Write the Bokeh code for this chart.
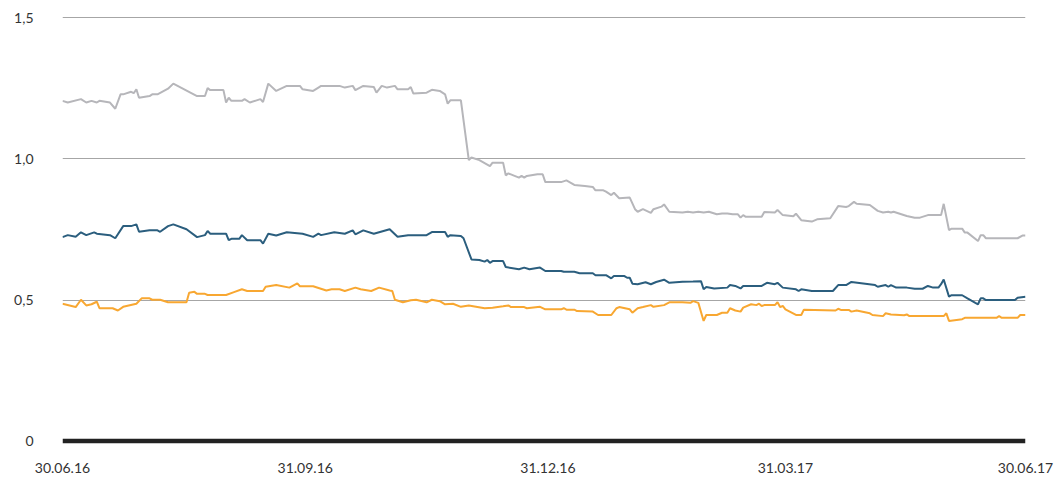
from bokeh.plotting import figure
from bokeh.models import Range1d, FixedTicker, Span
from bokeh.embed import file_html
from bokeh.resources import INLINE

# x = days since 30.06.16
tick_days = [0, 92, 184, 274, 365]
tick_labels = ["30.06.16", "31.09.16", "31.12.16", "31.03.17", "30.06.17"]
y_ticks = [0, 0.5, 1.0, 1.5]
y_labels = ["0", "0,5", "1,0", "1,5"]

gray_days = [0, 2, 7, 9, 11, 13, 14, 18, 20, 22, 23, 26, 27, 28, 29, 33, 34, 36, 40, 42,
             51, 54, 55, 56, 61, 62, 63, 64, 68, 69, 71, 75, 76, 78, 81, 85, 90, 91, 95, 97,
             98, 105, 107, 110, 111, 114, 118, 119, 121, 123, 126, 127, 131, 132, 133, 138, 140, 143, 145, 146,
             147, 151, 154, 155, 158, 162, 163, 167, 168, 169, 173, 174, 175, 176, 180, 182, 183, 189, 191, 194,
             198, 201, 202, 205, 206, 208, 209, 211, 215, 217, 218, 220, 223, 224, 227, 228, 230, 235, 237, 239,
             241, 243, 245, 248, 250, 252, 254, 256, 257, 258, 259, 265, 266, 270, 271, 273, 277, 278, 280, 284,
             286, 291, 294, 297, 298, 300, 301, 306, 309, 311, 313, 314, 315, 320, 323, 325, 328, 333, 334, 336,
             337, 341, 342, 343, 347, 348, 349, 350, 362, 364, 365]
gray_vals = [1.206, 1.200, 1.212, 1.200, 1.206, 1.200, 1.206, 1.200, 1.178, 1.229, 1.229, 1.238, 1.233, 1.247, 1.217, 1.223, 1.229, 1.229, 1.249, 1.267,
             1.223, 1.223, 1.251, 1.244, 1.244, 1.200, 1.217, 1.206, 1.206, 1.212, 1.200, 1.212, 1.202, 1.267, 1.241, 1.259, 1.259, 1.247, 1.241, 1.253,
             1.259, 1.259, 1.253, 1.259, 1.244, 1.259, 1.255, 1.235, 1.259, 1.253, 1.259, 1.247, 1.247, 1.255, 1.232, 1.235, 1.245, 1.241, 1.229, 1.196,
             1.208, 1.208, 0.996, 1.005, 0.996, 0.975, 0.987, 0.987, 0.942, 0.949, 0.934, 0.940, 0.934, 0.940, 0.946, 0.946, 0.918, 0.918, 0.924, 0.908,
             0.904, 0.901, 0.889, 0.889, 0.884, 0.872, 0.880, 0.861, 0.863, 0.822, 0.813, 0.822, 0.809, 0.822, 0.831, 0.839, 0.813, 0.810, 0.813, 0.810,
             0.813, 0.810, 0.813, 0.804, 0.807, 0.807, 0.804, 0.804, 0.792, 0.801, 0.795, 0.795, 0.812, 0.810, 0.819, 0.801, 0.797, 0.806, 0.783, 0.778,
             0.786, 0.790, 0.833, 0.830, 0.833, 0.848, 0.841, 0.837, 0.816, 0.810, 0.813, 0.810, 0.813, 0.798, 0.792, 0.792, 0.801, 0.801, 0.841, 0.748,
             0.753, 0.753, 0.739, 0.739, 0.709, 0.730, 0.730, 0.719, 0.719, 0.729, 0.729]

blue_days = [0, 2, 5, 7, 9, 12, 13, 18, 20, 23, 26, 28, 29, 33, 36, 37, 40, 42, 47, 51,
             54, 55, 56, 62, 63, 64, 67, 68, 70, 75, 76, 78, 81, 85, 91, 95, 97, 98, 103, 107,
             110, 111, 114, 118, 124, 127, 131, 138, 140, 145, 146, 147, 151, 152, 155, 158, 160, 161, 162, 163,
             167, 168, 173, 175, 177, 181, 183, 189, 190, 194, 196, 201, 202, 206, 208, 209, 213, 214, 215, 216,
             218, 221, 223, 225, 228, 230, 235, 239, 242, 243, 244, 247, 252, 253, 255, 257, 258, 265, 267, 270,
             271, 273, 278, 279, 280, 284, 292, 294, 297, 299, 308, 309, 312, 313, 314, 316, 320, 323, 326, 328,
             330, 332, 333, 334, 336, 337, 341, 343, 346, 347, 348, 349, 350, 361, 362, 365]
blue_vals = [0.723, 0.730, 0.724, 0.740, 0.730, 0.740, 0.735, 0.730, 0.719, 0.762, 0.762, 0.768, 0.742, 0.747, 0.747, 0.742, 0.762, 0.768, 0.751, 0.723,
             0.730, 0.745, 0.735, 0.735, 0.712, 0.717, 0.717, 0.730, 0.712, 0.712, 0.700, 0.735, 0.729, 0.740, 0.735, 0.724, 0.735, 0.730, 0.740, 0.735,
             0.747, 0.733, 0.747, 0.735, 0.751, 0.724, 0.730, 0.730, 0.741, 0.741, 0.724, 0.730, 0.727, 0.719, 0.644, 0.642, 0.636, 0.642, 0.632, 0.638,
             0.638, 0.617, 0.609, 0.615, 0.609, 0.615, 0.603, 0.603, 0.600, 0.600, 0.595, 0.595, 0.588, 0.588, 0.577, 0.585, 0.585, 0.579, 0.579, 0.558,
             0.556, 0.563, 0.556, 0.564, 0.572, 0.561, 0.565, 0.566, 0.567, 0.538, 0.546, 0.541, 0.544, 0.553, 0.550, 0.541, 0.550, 0.550, 0.561, 0.556,
             0.561, 0.544, 0.538, 0.532, 0.538, 0.532, 0.532, 0.553, 0.553, 0.564, 0.553, 0.547, 0.553, 0.547, 0.553, 0.544, 0.544, 0.540, 0.540, 0.550,
             0.544, 0.544, 0.556, 0.573, 0.512, 0.517, 0.517, 0.506, 0.490, 0.485, 0.506, 0.506, 0.500, 0.500, 0.508, 0.512]

orange_days = [0, 5, 7, 9, 11, 13, 14, 19, 21, 23, 28, 30, 33, 34, 37, 40, 47, 48, 50, 51,
               54, 55, 62, 65, 68, 70, 76, 77, 81, 86, 89, 90, 95, 100, 102, 105, 107, 111, 113, 117,
               120, 124, 125, 126, 129, 132, 134, 138, 140, 143, 145, 148, 151, 154, 160, 163, 167, 169, 170, 175,
               176, 181, 183, 189, 190, 191, 194, 195, 201, 203, 208, 210, 211, 215, 216, 218, 220, 223, 224, 228,
               230, 235, 238, 239, 241, 243, 244, 248, 250, 252, 253, 255, 257, 258, 261, 263, 264, 265, 266, 270,
               271, 272, 273, 274, 278, 280, 281, 293, 294, 295, 298, 299, 301, 306, 307, 311, 312, 314, 319, 320,
               321, 334, 335, 336, 341, 342, 354, 355, 356, 362, 363, 365]
orange_vals = [0.487, 0.475, 0.501, 0.481, 0.485, 0.494, 0.471, 0.471, 0.463, 0.476, 0.487, 0.506, 0.506, 0.501, 0.501, 0.492, 0.492, 0.526, 0.529, 0.522,
               0.522, 0.518, 0.518, 0.528, 0.538, 0.532, 0.532, 0.547, 0.553, 0.544, 0.559, 0.549, 0.549, 0.534, 0.538, 0.538, 0.532, 0.544, 0.538, 0.532,
               0.544, 0.534, 0.532, 0.501, 0.492, 0.499, 0.501, 0.492, 0.501, 0.496, 0.485, 0.487, 0.476, 0.481, 0.471, 0.473, 0.478, 0.481, 0.475, 0.475,
               0.471, 0.476, 0.467, 0.467, 0.471, 0.466, 0.466, 0.461, 0.459, 0.447, 0.447, 0.471, 0.475, 0.467, 0.455, 0.471, 0.475, 0.482, 0.476, 0.482,
               0.492, 0.492, 0.490, 0.496, 0.490, 0.426, 0.447, 0.447, 0.455, 0.455, 0.471, 0.463, 0.459, 0.473, 0.485, 0.482, 0.487, 0.479, 0.482, 0.482,
               0.492, 0.475, 0.479, 0.467, 0.447, 0.447, 0.466, 0.463, 0.469, 0.465, 0.465, 0.459, 0.463, 0.453, 0.447, 0.443, 0.453, 0.449, 0.446, 0.449,
               0.443, 0.443, 0.453, 0.426, 0.432, 0.437, 0.437, 0.443, 0.437, 0.437, 0.447, 0.447]

FONT = "Lato"

p = figure(width=1055, height=477, output_backend="svg", toolbar_location=None,
           x_range=Range1d(0, 365), y_range=Range1d(-0.012, 1.512),
           min_border_left=62, min_border_right=30, min_border_top=14, min_border_bottom=33,
           frame_width=963, frame_height=430)
p.outline_line_color = None
p.background_fill_color = "white"
p.border_fill_color = "white"

p.xgrid.visible = False
p.ygrid.ticker = FixedTicker(ticks=[0.5, 1.0, 1.5])
p.ygrid.grid_line_color = "#a6a6a6"
p.ygrid.grid_line_width = 1

p.yaxis.ticker = FixedTicker(ticks=y_ticks)
p.yaxis.major_label_overrides = {t: l for t, l in zip(y_ticks, y_labels)}
p.xaxis.ticker = FixedTicker(ticks=tick_days)
p.xaxis.major_label_overrides = {t: l for t, l in zip(tick_days, tick_labels)}
for ax in (p.xaxis[0], p.yaxis[0]):
    ax.axis_line_color = None
    ax.major_tick_line_color = None
    ax.minor_tick_line_color = None
    ax.major_tick_out = 0
    ax.major_tick_in = 0
    ax.major_label_text_font = FONT
    ax.major_label_text_font_size = "14px"
    ax.major_label_text_color = "#333333"
p.yaxis.major_label_standoff = 29
p.xaxis.major_label_standoff = 18

p.add_layout(Span(location=0, dimension="width", line_color="#222222", line_width=4.5))

p.line(gray_days, gray_vals, line_color="#b6b6ba", line_width=2)
p.line(blue_days, blue_vals, line_color="#2b5e7e", line_width=2)
p.line(orange_days, orange_vals, line_color="#f8a731", line_width=2)

open("out.html", "w").write(file_html(p, INLINE))
